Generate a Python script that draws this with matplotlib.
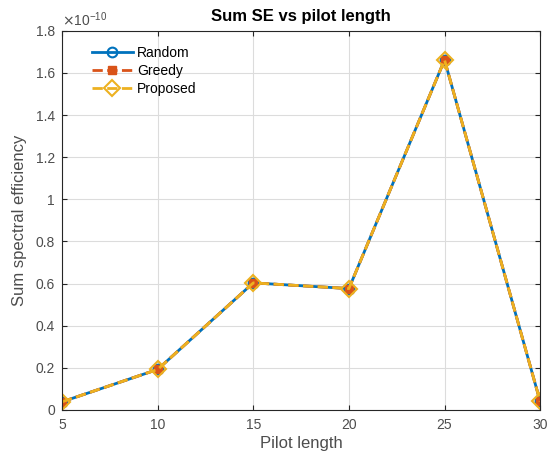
import numpy as np
import matplotlib.pyplot as plt
from matplotlib.ticker import FuncFormatter

plt.rcParams['font.family'] = ['Liberation Sans', 'DejaVu Sans']

pilot_len = [5, 10, 15, 20, 25, 30]
se_random = [0.038, 0.192, 0.603, 0.576, 1.662, 0.040]
se_greedy = [0.038, 0.192, 0.603, 0.576, 1.662, 0.040]
se_proposed = [0.038, 0.192, 0.603, 0.576, 1.662, 0.040]
scale = 1e-10

fig = plt.figure(figsize=(5.54, 4.61), dpi=100)
ax = fig.add_axes([0.112, 0.111, 0.863, 0.822])

ax.plot(pilot_len, np.array(se_random)*scale, '-o', color='#0072BD', lw=2,
        mfc='none', mew=1.5, ms=7, label='Random')
ax.plot(pilot_len, np.array(se_greedy)*scale, '--s', color='#D95319', lw=2,
        mfc='#D95319', ms=6, label='Greedy')
ax.plot(pilot_len, np.array(se_proposed)*scale, '--D', color='#EDB120', lw=2,
        mfc='none', mew=1.5, ms=8, label='Proposed')

ax.set_xlim(5, 30)
ax.set_ylim(0, 1.8e-10)
ax.set_xticks(range(5, 31, 5))
ax.set_yticks(np.arange(0, 1.81, 0.2)*scale)
ax.yaxis.set_major_formatter(FuncFormatter(lambda v, p: '%g' % round(v/scale, 1)))
ax.tick_params(direction='in', top=True, right=True, labelsize=10,
               colors='#262626', labelcolor='#4d4d4d')
ax.tick_params(axis='x', pad=6)
ax.tick_params(axis='y', pad=5)
ax.grid(True, color='#dcdcdc', lw=0.8)
for s in ax.spines.values():
    s.set_color('#262626')

ax.text(0.0, 1.005, r'$\times\mathregular{10^{-10}}$', transform=ax.transAxes,
        fontsize=10, color='#4d4d4d', va='bottom')
ax.set_title('Sum SE vs pilot length', fontsize=12, fontweight='bold', pad=7)
ax.set_xlabel('Pilot length', fontsize=12, color='#4d4d4d', labelpad=3)
ax.set_ylabel('Sum spectral efficiency', fontsize=12, color='#4d4d4d', labelpad=6)

leg = ax.legend(loc='upper left', bbox_to_anchor=(0.05, 0.975), frameon=False,
                fontsize=10, handlelength=3.0, borderaxespad=0,
                labelspacing=0.3, handletextpad=0.3)

fig.savefig('out.png', dpi=100)
